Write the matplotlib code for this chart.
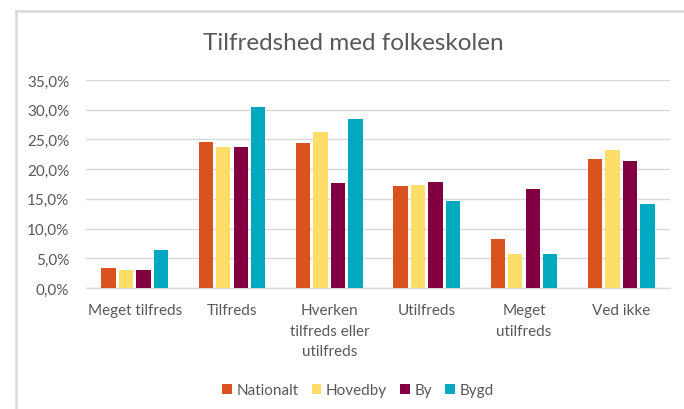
import numpy as np
import matplotlib
matplotlib.use("Agg")
import matplotlib.pyplot as plt
from matplotlib.lines import Line2D
from matplotlib.ticker import FuncFormatter

# data (percent)
categories = ["Meget tilfreds", "Tilfreds", "Hverken\ntilfreds eller\nutilfreds",
              "Utilfreds", "Meget\nutilfreds", "Ved ikke"]
series_names = ["Nationalt", "Hovedby", "By", "Bygd"]
nationalt = [3.4, 24.6, 24.4, 17.2, 8.3, 21.7]
hovedby = [3.1, 23.7, 26.3, 17.3, 5.8, 23.3]
by = [3.0, 23.8, 17.6, 17.8, 16.6, 21.3]
bygd = [6.4, 30.4, 28.4, 14.6, 5.8, 14.1]
colors = ["#DA521E", "#FEDE68", "#820041", "#00A9BF"]

plt.rcParams['font.family'] = ['Lato', 'DejaVu Sans']
text_col = "#595959"
grid_col = "#D9D9D9"

fig = plt.figure(figsize=(6.84, 4.10), dpi=100)
ax = fig.add_axes([86 / 684, 1 - 289 / 410, 584 / 684, 208 / 410])

x = np.arange(len(categories))
step = 0.179
for i, (vals, name) in enumerate(zip([nationalt, hovedby, by, bygd], series_names)):
    ax.bar(x + (i - 1.5) * step, vals, width=0.148, color=colors[i], label=name, zorder=3)

ax.set_xlim(-0.5, len(categories) - 0.5)
ax.set_ylim(0, 35)
ax.set_yticks(np.arange(0, 36, 5))
ax.yaxis.set_major_formatter(FuncFormatter(lambda v, p: f"{v:.1f}%".replace(".", ",")))
ax.grid(axis="y", color=grid_col, linewidth=1.0, zorder=0)
for s in ["top", "right", "left"]:
    ax.spines[s].set_visible(False)
ax.spines["bottom"].set_color(grid_col)
ax.spines["bottom"].set_linewidth(1.0)
ax.tick_params(axis="both", length=0, colors=text_col, labelsize=11)
ax.tick_params(axis="y", pad=12)
ax.tick_params(axis="x", pad=11)
ax.set_xticks(x)
ax.set_xticklabels(categories, linespacing=1.6, va="top")

fig.text(353 / 684, 1 - 44 / 410, "Tilfredshed med folkeskolen", ha="center", va="center",
         fontsize=17.5, color=text_col)

fig.legend(loc="center", bbox_to_anchor=(358 / 684, 1 - 391 / 410), ncol=4, frameon=False,
           fontsize=11, handlelength=0.65, handleheight=0.65, handletextpad=0.3,
           columnspacing=0.85, labelcolor=text_col)

# chart frame (only top and left edges are visible in the crop)
fig.add_artist(Line2D([16 / 684, 1], [1 - 11.5 / 410] * 2, color=grid_col, linewidth=1.8,
                      transform=fig.transFigure))
fig.add_artist(Line2D([16 / 684] * 2, [0, 1 - 11.5 / 410], color=grid_col, linewidth=1.8,
                      transform=fig.transFigure))

fig.savefig("out.png", dpi=100, facecolor="white")
